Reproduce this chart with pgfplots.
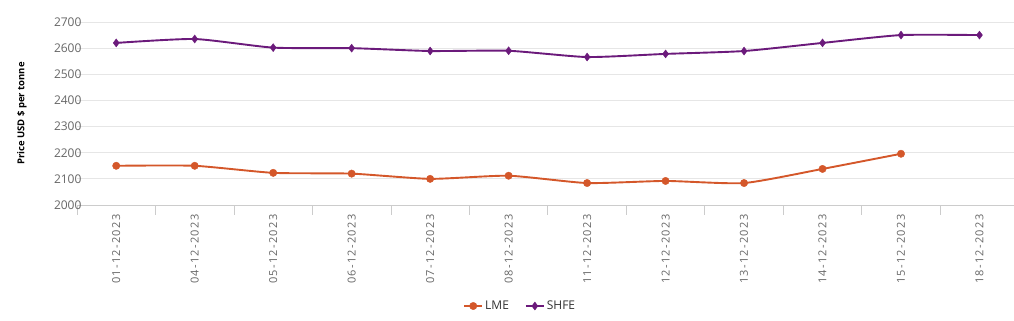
\documentclass[border=0pt]{standalone}
\usepackage{fontspec}
\setmainfont{Open Sans}
\newfontfamily\spacedfont[LetterSpace=12]{Open Sans}
\usepackage{pgfplots}
\pgfplotsset{compat=1.18}
\definecolor{lme}{HTML}{D4572A}
\definecolor{shfe}{HTML}{6B1A7B}
\definecolor{gridc}{HTML}{E6E6E6}
\definecolor{ticklab}{HTML}{666666}
\definecolor{axisc}{HTML}{CCCCCC}
\begin{document}
\begin{tikzpicture}[x=1pt,y=1pt]
\path[use as bounding box] (0,0) rectangle (1014,321);
\begin{axis}[
  at={(77pt,116pt)}, anchor=south west, scale only axis,
  width=937pt, height=183pt,
  xmin=-0.5, xmax=11.44, ymin=2000, ymax=2700,
  ytick={2000,2100,...,2700},
  ymajorgrids, major grid style={draw=gridc, line width=0.8pt},
  axis x line*=bottom, axis y line*=left,
  y axis line style={draw=none},
  x axis line style={draw=axisc, line width=0.8pt},
  xtick={0,...,11},
  xticklabels={01-12-2023,04-12-2023,05-12-2023,06-12-2023,07-12-2023,08-12-2023,11-12-2023,12-12-2023,13-12-2023,14-12-2023,15-12-2023,18-12-2023},
  minor xtick={-0.5,0.5,...,10.5},
  major tick length=0pt, minor tick length=10pt, tick align=outside,
  minor x tick style={draw=axisc, line width=0.8pt},
  ytick style={draw=none},
  x tick label style={rotate=90, anchor=east, font=\spacedfont\fontsize{11}{12}\selectfont, color=ticklab, xshift=-6pt},
  y tick label style={font=\fontsize{12}{14}\selectfont, color=ticklab, xshift=8pt},
  /pgf/number format/assume math mode=true,
  /pgf/number format/1000 sep={},
  ylabel={\textbf{Price USD \$ per tonne}},
  ylabel style={at={(axis description cs:-0.0587,0.5)}, anchor=center, font=\fontsize{9.5}{11}\selectfont, color=black},
  legend style={at={(axis description cs:0.473,-0.552)}, anchor=center, draw=none, legend columns=2,
    font=\fontsize{12}{14}\selectfont, text=black!80,
    /tikz/every even column/.append style={column sep=14pt}},
  legend image code/.code={\draw[mark repeat=2,mark phase=2] plot coordinates {(0pt,0pt) (9pt,0pt) (18pt,0pt)};},
  clip=false,
]
\addplot[color=lme, line width=1.9pt, smooth, tension=0.35, mark=*, mark size=3.7pt, mark options={fill=lme, draw=lme, line width=0.4pt, solid}]
 coordinates {(0,2150) (1,2150) (2,2123) (3,2120) (4,2100) (5,2112) (6,2084) (7,2092) (8,2084) (9,2138) (10,2196)};
\addlegendentry{LME}
\addplot[color=shfe, line width=1.9pt, smooth, tension=0.35, mark=diamond*, mark size=4pt, mark options={fill=shfe, draw=shfe, line width=0.4pt, solid}]
 coordinates {(0,2620) (1,2635) (2,2602) (3,2600) (4,2589) (5,2590) (6,2566) (7,2578) (8,2589) (9,2620) (10,2650) (11,2650)};
\addlegendentry{SHFE}
\end{axis}
\end{tikzpicture}
\end{document}
